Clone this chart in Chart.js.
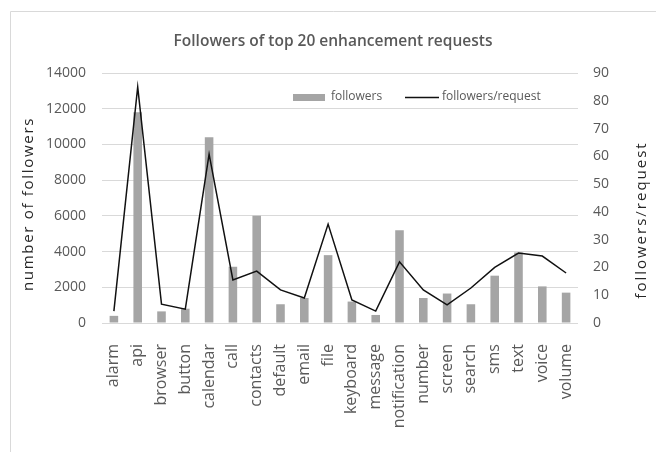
<!DOCTYPE html>
<html>
<head>
<meta charset="utf-8">
<script src="https://cdn.jsdelivr.net/npm/chart.js@4/dist/chart.umd.min.js"></script>
<style>
  html, body { margin: 0; padding: 0; background: #fff; }
  #wrap { width: 656px; height: 452px; }
</style>
</head>
<body>
<div id="wrap"><canvas id="chart" width="656" height="452"></canvas></div>
<script>
// data
const categories = ['alarm', 'api', 'browser', 'button', 'calendar', 'call', 'contacts', 'default', 'email', 'file',
  'keyboard', 'message', 'notification', 'number', 'screen', 'search', 'sms', 'text', 'voice', 'volume'];
const followers = [400, 11800, 650, 800, 10400, 3150, 6000, 1050, 1400, 3800,
  1200, 450, 5200, 1400, 1650, 1050, 2650, 3950, 2050, 1700];
const followersPerRequest = [4.3, 85, 6.8, 5, 60.8, 15.5, 18.7, 11.9, 9, 35.6,
  8.3, 4.3, 22, 11.9, 6.5, 12.6, 20, 25.2, 24.1, 18];
const leftTicks = [0, 2000, 4000, 6000, 8000, 10000, 12000, 14000];
const rightTicks = [0, 10, 20, 30, 40, 50, 60, 70, 80, 90];

const chartTitle = 'Followers of top 20 enhancement requests';
const leftTitle = 'number of followers';
const rightTitle = 'followers/request';

const grey = '#595959';
const font = 'Open Sans';

// titles, legend and frame drawn by hand
const decor = {
  id: 'decor',
  beforeDraw(chart) {
    const c = chart.ctx;
    c.save();
    c.strokeStyle = '#d9d9d9';
    c.lineWidth = 1;
    c.beginPath();
    c.moveTo(10.5, 452);
    c.lineTo(10.5, 11.5);
    c.lineTo(656, 11.5);
    c.stroke();
    c.restore();
  },
  afterDraw(chart) {
    const c = chart.ctx;
    c.save();
    c.fillStyle = grey;
    c.textAlign = 'center';
    c.textBaseline = 'middle';
    c.font = '600 15.5px "' + font + '"';
    c.fillText(chartTitle, 333, 42);

    // axis titles, both read bottom to top
    c.fillStyle = '#262626';
    c.font = '15px "' + font + '"';
    c.letterSpacing = '1.7px';
    c.translate(29, 204);
    c.rotate(-Math.PI / 2);
    c.fillText(leftTitle, 0, 0);
    c.setTransform(1, 0, 0, 1, 0, 0);
    c.letterSpacing = '2px';
    c.translate(642, 220);
    c.rotate(-Math.PI / 2);
    c.fillText(rightTitle, 0, 0);
    c.setTransform(1, 0, 0, 1, 0, 0);
    c.letterSpacing = '0px';

    // legend
    const ds = chart.data.datasets;
    c.font = '12px "' + font + '"';
    c.textAlign = 'left';
    c.fillStyle = ds[0].backgroundColor;
    c.fillRect(293, 94, 32, 7);
    c.fillStyle = grey;
    c.fillText(ds[0].label, 331, 97);
    c.strokeStyle = ds[1].borderColor;
    c.lineWidth = 1.5;
    c.beginPath();
    c.moveTo(405, 97.5);
    c.lineTo(439, 97.5);
    c.stroke();
    c.fillText(ds[1].label, 442, 97);
    c.restore();
  }
};

new Chart(document.getElementById('chart'), {
  data: {
    labels: categories,
    datasets: [
      {
        type: 'bar', label: 'followers', data: followers, yAxisID: 'y',
        backgroundColor: '#a5a5a5', barPercentage: 0.36, categoryPercentage: 1, order: 1
      },
      {
        type: 'line', label: 'followers/request', data: followersPerRequest, yAxisID: 'y1',
        borderColor: '#111111', borderWidth: 1.5, pointRadius: 0, tension: 0, fill: false, order: 0
      }
    ]
  },
  options: {
    responsive: false,
    devicePixelRatio: 1,
    animation: false,
    layout: { padding: { left: 0, top: 73, right: 0, bottom: 0 } },
    plugins: { legend: { display: false }, title: { display: false }, tooltip: { enabled: false } },
    scales: {
      x: {
        grid: { display: false },
        border: { display: false },
        ticks: { color: grey, font: { family: font, size: 16 }, minRotation: 90, maxRotation: 90, autoSkip: false, padding: 13 },
        afterFit: s => { s.height = 129; }
      },
      y: {
        position: 'left', min: 0, max: 14000,
        afterBuildTicks: s => { s.ticks = leftTicks.map(v => ({ value: v })); },
        grid: { color: '#d9d9d9', drawTicks: false },
        border: { display: false },
        ticks: { color: grey, font: { family: font, size: 14 }, padding: 16, callback: v => String(v) },
        afterFit: s => { s.width = 102; }
      },
      y1: {
        position: 'right', min: 0, max: 90,
        afterBuildTicks: s => { s.ticks = rightTicks.map(v => ({ value: v })); },
        grid: { display: false, drawTicks: false },
        border: { display: false },
        ticks: { color: grey, font: { family: font, size: 14 }, padding: 15, callback: v => String(v) },
        afterFit: s => { s.width = 78; }
      }
    }
  },
  plugins: [decor]
});
</script>
</body>
</html>
